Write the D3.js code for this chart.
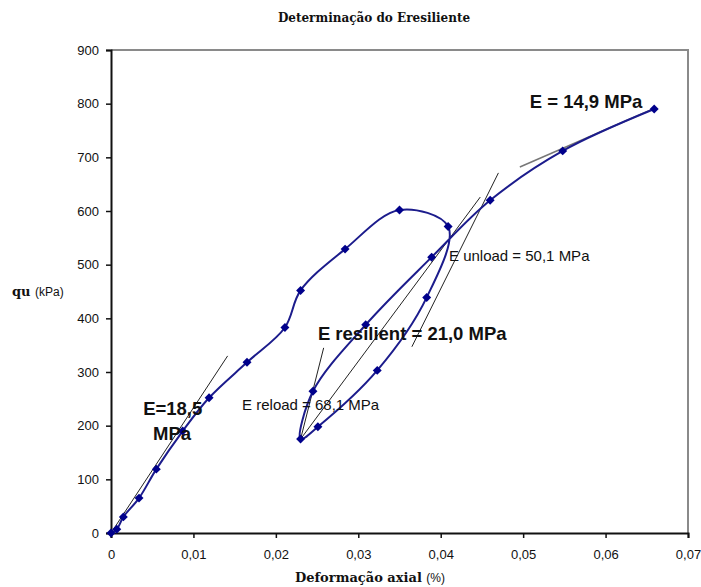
<!DOCTYPE html>
<html>
<head>
<meta charset="utf-8">
<script src="https://cdn.jsdelivr.net/npm/d3@7"></script>
<style>
  body { margin: 0; background: #fff; }
</style>
</head>
<body>
<svg id="chart"></svg>
<script>
// axial strain (%) and qu (kPa): loading, unloading, reloading
const strain = [0, 0.0007, 0.0015, 0.0034, 0.0055, 0.0087, 0.0119, 0.0165, 0.0211, 0.0230, 0.0284, 0.0350, 0.0409,
                0.0383, 0.0323, 0.0251, 0.0230,
                0.0245, 0.0309, 0.0389, 0.0460, 0.0548, 0.0659];
const qu = [0, 7, 30, 65, 119, 190, 252, 318, 383, 452, 529, 602, 571,
            439, 303, 198, 175,
            264, 388, 514, 620, 712, 790];

// tangent lines [strain, qu]
const lineE185 = [[0, 0], [0.01415, 330]];
const lineE149 = [[0.0496, 682], [0.0659, 791]];
const lineResilient = [[0.0230, 175], [0.0448, 626]];
const lineUnload = [[0.0365, 347], [0.0470, 671]];
const lineReload = [[0.0230, 175], [0.0258, 345]];

const xTicks = [0, 0.01, 0.02, 0.03, 0.04, 0.05, 0.06, 0.07];
const xTickLabels = ['0', '0,01', '0,02', '0,03', '0,04', '0,05', '0,06', '0,07'];
const yTicks = [0, 100, 200, 300, 400, 500, 600, 700, 800, 900];

let width = 701;
let height = 587;
const margin = {top: 50, right: 13, bottom: 54, left: 111};

const svg = d3.select('#chart')
  .attr('width', width)
  .attr('height', height);

width = width - margin.left - margin.right;
height = height - margin.top - margin.bottom;

const x = d3.scaleLinear().domain([0, 0.07]).range([0, width]);
const y = d3.scaleLinear().domain([0, 900]).range([height, 0]);

const g = svg.append('g')
  .attr('transform', 'translate(' + margin.left + ',' + margin.top + ')');

// top and right frame (grey)
g.append('path')
  .attr('d', 'M0,0H' + width + 'V' + height)
  .attr('fill', 'none')
  .attr('stroke', '#8a8a8a')
  .attr('stroke-width', 2);

g.append('g')
  .attr('transform', 'translate(0,' + height + ')')
  .call(d3.axisBottom(x).tickValues(xTicks).tickSize(5).tickPadding(12)
    .tickFormat((d, i) => xTickLabels[i]));

g.append('g')
  .call(d3.axisLeft(y).tickValues(yTicks).tickSize(5).tickPadding(7));

svg.selectAll('.domain')
  .attr('stroke', '#111')
  .attr('stroke-width', 2);
svg.selectAll('.tick line')
  .attr('stroke', '#111')
  .attr('stroke-width', 1.5);
svg.selectAll('.tick text')
  .attr('fill', '#111')
  .style('font', '13px "Liberation Sans", Arial, sans-serif');

// tangent lines
const tline = d3.line().x(d => x(d[0])).y(d => y(d[1]));
[lineE185, lineResilient, lineUnload, lineReload].forEach(l => {
  g.append('path')
    .attr('d', tline(l))
    .attr('fill', 'none')
    .attr('stroke', '#222')
    .attr('stroke-width', 1);
});
g.append('path')
  .attr('d', tline(lineE149))
  .attr('fill', 'none')
  .attr('stroke', '#777')
  .attr('stroke-width', 1.5);

// data curve
const pts = strain.map((s, i) => ({s: s, q: qu[i]}));
const curve = d3.line()
  .x(d => x(d.s))
  .y(d => y(d.q))
  .curve(d3.curveCatmullRom.alpha(0.5));

g.append('path')
  .datum(pts)
  .attr('d', curve)
  .attr('fill', 'none')
  .attr('stroke', '#1c1c8c')
  .attr('stroke-width', 2);

g.selectAll('.pt')
  .data(pts)
  .enter().append('path')
  .attr('class', 'pt')
  .attr('d', d3.symbol(d3.symbolSquare, 40))
  .attr('transform', d => 'translate(' + x(d.s) + ',' + y(d.q) + ') rotate(45)')
  .attr('fill', '#00008b');

// annotations
const ann = g.append('g').attr('fill', '#111')
  .style('font-family', '"Liberation Sans", Arial, sans-serif');

function note(sx, qy, txt, size, bold) {
  ann.append('text')
    .attr('x', x(sx))
    .attr('y', y(qy))
    .style('font-size', size + 'px')
    .style('font-weight', bold ? 'bold' : 'normal')
    .text(txt);
}
note(0.0508, 792, 'E = 14,9 MPa', 18.5, true);
note(0.0039, 220, 'E=18,5', 18.5, true);
note(0.0051, 173, 'MPa', 18.5, true);
note(0.0251, 360, 'E resilient = 21,0 MPa', 18.5, true);
note(0.0410, 507, 'E unload = 50,1 MPa', 15, false);
note(0.0159, 229, 'E reload = 68,1 MPa', 15, false);

// title and axis titles
svg.append('text')
  .attr('x', 374)
  .attr('y', 22)
  .attr('text-anchor', 'middle')
  .style('font', 'bold 12px "DejaVu Serif", serif')
  .attr('fill', '#111')
  .text('Determinação do Eresiliente');

const yl = svg.append('text')
  .attr('x', 12)
  .attr('y', 296)
  .attr('fill', '#111');
yl.append('tspan').style('font', 'bold 13px "DejaVu Serif", serif').text('qu ');
yl.append('tspan').style('font', '12px "Liberation Sans", Arial, sans-serif').text('(kPa)');

const xl = svg.append('text')
  .attr('x', 370)
  .attr('y', 582)
  .attr('text-anchor', 'middle')
  .attr('fill', '#111');
xl.append('tspan').style('font', 'bold 13px "DejaVu Serif", serif').text('Deformação axial ');
xl.append('tspan').style('font', '12px "Liberation Sans", Arial, sans-serif').text('(%)');
</script>
</body>
</html>
